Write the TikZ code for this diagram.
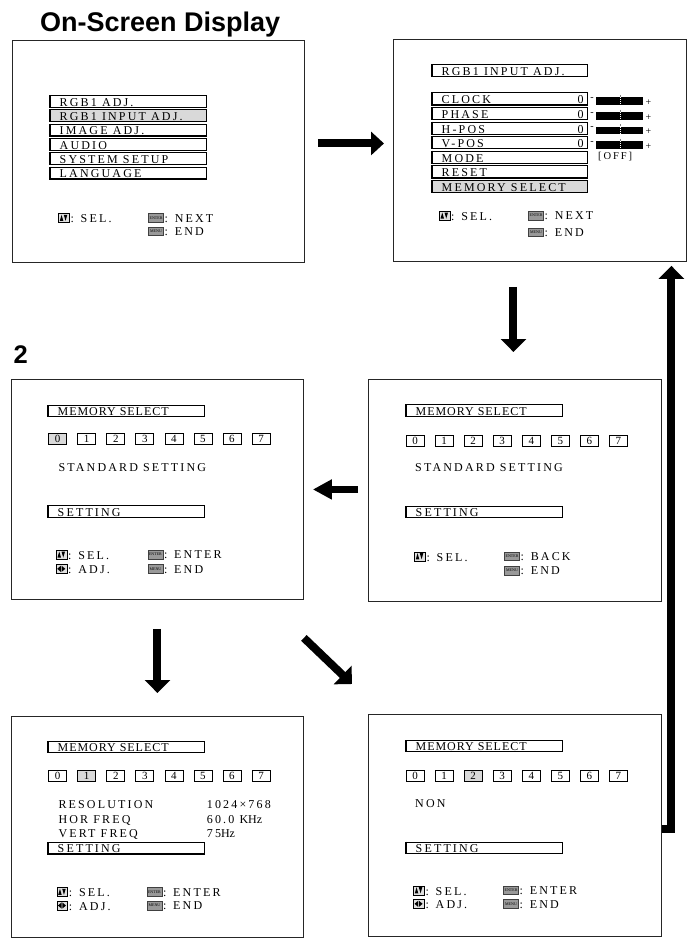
\documentclass[tikz,border=0pt]{standalone}
\usepackage{fontspec}
\setmainfont{Liberation Serif}
\newfontfamily\osdA[LetterSpace=18]{Liberation Serif}
\newfontfamily\osdB[LetterSpace=8]{Liberation Serif}
\newfontfamily\hdfont{Liberation Sans}
\usetikzlibrary{arrows.meta,calc}

\tikzset{
  panel/.style={draw=black!85, line width=0.9pt, fill=white, inner sep=0pt, anchor=north west},
  rowbox/.style={draw=black, line width=0.8pt, inner sep=0pt, anchor=north west},
  rowedge/.style={line width=1.1pt},
  rowtext/.style={inner sep=0pt, font=\osdA\fontsize{12}{13}\selectfont, anchor=base west},
  plaintext/.style={inner sep=0pt, font=\fontsize{12}{13}\selectfont, anchor=base east},
  numbox/.style={draw=black, line width=0.7pt, inner sep=0pt, minimum width=18pt, minimum height=11pt, anchor=north west, font=\fontsize{11}{12}\selectfont},
  keybox/.style={draw=black!75, fill=black!40, line width=0.5pt, inner sep=0pt, minimum width=15pt, minimum height=8.5pt, anchor=north west, font=\fontsize{4}{4.5}\selectfont},
  iconbox/.style={draw=black, fill=black!12, line width=0.9pt, inner sep=0pt, minimum width=10.5pt, minimum height=9pt, anchor=north west},
  smallsign/.style={inner sep=0pt, font=\fontsize{10}{11}\selectfont},
  fat/.style={line width=8pt, line join=miter, -{Triangle[length=13pt,width=25pt]}},
}

\newcommand\osdrow[7]{%
  \node[rowbox,fill=#6,minimum width=#4pt,minimum height=#5pt] (#1) at (#2,#3) {};
  \draw[rowedge] (#1.north west) -- (#1.south west) -- (#1.south east);
  \node[rowtext] (#1t) at ([xshift=9.5pt,yshift=1.2pt]#1.south west) {#7};}

\newcommand\numrow[4]{%
  \foreach \i in {0,...,7}{%
    \pgfmathsetmacro\xx{#2+29.05*\i}%
    \ifnum\i=#4 \def\nf{black!15}\else\def\nf{white}\fi
    \node[numbox,fill=\nf] (#1n\i) at (\xx,#3) {\i};
  }}

\newcommand\updown[3]{%
  \node[iconbox] (#1) at (#2,#3) {};
  \fill (#2+1.5,#3+7.6) -- (#2+5.0,#3+7.6) -- (#2+3.25,#3+1.5) -- cycle;
  \fill (#2+5.5,#3+1.5) -- (#2+9.0,#3+1.5) -- (#2+7.25,#3+7.6) -- cycle;
  \node[rowtext] (#1t) at ([xshift=0.6pt,yshift=0.3pt]#1.south east) {: SEL.};}

\newcommand\leftright[3]{%
  \node[iconbox] (#1) at (#2,#3) {};
  \fill (#2+1.2,#3+4.5) -- (#2+4.9,#3+1.4) -- (#2+4.9,#3+7.6) -- cycle;
  \fill (#2+9.3,#3+4.5) -- (#2+5.6,#3+1.4) -- (#2+5.6,#3+7.6) -- cycle;
  \node[rowtext] (#1t) at ([xshift=0.6pt,yshift=0.3pt]#1.south east) {: ADJ.};}

\newcommand\keyicon[5]{%
  \node[keybox] (#1) at (#2,#3) {#4};
  \node[rowtext] (#1t) at ([xshift=0.6pt,yshift=0.3pt]#1.south east) {#5};}

\newcommand\slider[2]{%
  \node[smallsign] (#1m) at (592,#2+7) {-};
  \fill (596,#2+5) rectangle (643,#2+12.6);
  \draw[white, line width=0.8pt, dash pattern=on 1pt off 1pt] (620,#2+5) -- (620,#2+12.6);
  \draw[black!50, line width=0.6pt] (620,#2+2.8) -- (620,#2+4.6);
  \node[smallsign] (#1p) at (648.5,#2+10.5) {+};}

\begin{document}
\begin{tikzpicture}[x=1pt,y=-1pt]
\useasboundingbox (0,0) rectangle (690,943);
\fill[white] (0,0) rectangle (690,943);

\node[anchor=base west, inner sep=0pt, font=\hdfont\bfseries\fontsize{27}{30}\selectfont] (title) at (40,31.7) {On-Screen Display};
\node[anchor=base west, inner sep=0pt, font=\hdfont\bfseries\fontsize{25.5}{28}\selectfont] (two) at (13.5,363.3) {2};

% panels
\node[panel,minimum width=292pt,minimum height=222pt] (p1) at (12,40) {};
\node[panel,minimum width=293pt,minimum height=222pt] (p2) at (393,39) {};
\node[panel,minimum width=292pt,minimum height=220pt] (p3) at (11,379) {};
\node[panel,minimum width=293pt,minimum height=222pt] (p4) at (368,379) {};
\node[panel,minimum width=292pt,minimum height=221pt] (p5) at (11,716) {};
\node[panel,minimum width=293pt,minimum height=222pt] (p6) at (368,714) {};

% panel 1
\osdrow{a1}{50}{95}{156}{11.5}{white}{RGB1 ADJ.}
\osdrow{a2}{50}{109.3}{156}{11.5}{black!15}{RGB1 INPUT ADJ.}
\osdrow{a3}{50}{123.7}{156}{11.5}{white}{IMAGE ADJ.}
\osdrow{a4}{50}{138}{156}{11.5}{white}{AUDIO}
\osdrow{a5}{50}{152.3}{156}{11.5}{white}{SYSTEM SETUP}
\osdrow{a6}{50}{166.7}{156}{11.5}{white}{LANGUAGE}
\updown{a7}{58.3}{213.3}
\keyicon{a8}{148.3}{213.3}{ENTER}{: NEXT}
\keyicon{a9}{148.3}{226.7}{MENU}{: END}

% panel 2
\osdrow{b0}{432}{64}{155}{12}{white}{RGB1 INPUT ADJ.}
\osdrow{b1}{432}{92.3}{155}{12}{white}{CLOCK}
\osdrow{b2}{432}{106.9}{155}{12}{white}{PHASE}
\osdrow{b3}{432}{121.5}{155}{12}{white}{H-POS}
\osdrow{b4}{432}{136.1}{155}{12}{white}{V-POS}
\osdrow{b5}{432}{150.7}{155}{12}{white}{MODE}
\osdrow{b6}{432}{165.3}{155}{12}{white}{RESET}
\osdrow{b7}{432}{179.9}{155}{12}{black!15}{MEMORY SELECT}
\foreach \r in {b1,b2,b3,b4}{\node[plaintext] (\r z) at ([xshift=-4pt,yshift=1.2pt]\r.south east) {0};}
\slider{s1}{92.3}
\slider{s2}{106.9}
\slider{s3}{121.5}
\slider{s4}{136.1}
\node[rowtext, font=\osdA\fontsize{10.5}{11}\selectfont] (off) at (598,159.5) {[OFF]};
\updown{b8}{439}{211}
\keyicon{b9}{528.3}{211}{ENTER}{: NEXT}
\keyicon{b10}{528.3}{227.7}{MENU}{: END}

% panel 3
\osdrow{c0}{48}{405}{156}{11}{white}{\osdB MEMORY SELECT}
\numrow{c}{48.3}{433}{0}
\node[rowtext] (c9) at (58.3,471.5) {STANDARD SETTING};
\osdrow{c10}{48}{505}{156}{12}{white}{SETTING}
\updown{c11}{56}{550}
\keyicon{c12}{147.7}{550}{ENTER}{: ENTER}
\leftright{c13}{56}{564.3}
\keyicon{c14}{147.7}{564.3}{MENU}{: END}

% panel 4
\osdrow{d0}{406}{404}{156}{12}{white}{\osdB MEMORY SELECT}
\numrow{d}{405.7}{435}{-1}
\node[rowtext] (d9) at (415,471.7) {STANDARD SETTING};
\osdrow{d10}{406}{506}{156}{11}{white}{SETTING}
\updown{d11}{414.3}{551.7}
\keyicon{d12}{504.3}{551.7}{ENTER}{: BACK}
\keyicon{d13}{504.3}{566}{MENU}{: END}

% panel 5
\osdrow{e0}{48}{741}{156}{11}{white}{\osdB MEMORY SELECT}
\numrow{e}{48.3}{770}{1}
\node[rowtext] (e1) at (58.3,808.8) {RESOLUTION};
\node[rowtext] (e2) at (58.3,823.2) {HOR FREQ};
\node[rowtext] (e3) at (58.3,837.6) {VERT FREQ};
\node[rowtext] (e4) at (206.7,808.8) {1024×768};
\node[rowtext] (e5) at (206.7,823.2) {60.0 {\rmfamily KHz}};
\node[rowtext] (e6) at (206.7,837.6) {75{\rmfamily Hz}};
\osdrow{e10}{48}{842.3}{156}{11}{white}{SETTING}
\updown{e11}{56.7}{887.3}
\keyicon{e12}{146.7}{887.3}{ENTER}{: ENTER}
\leftright{e13}{56.7}{901}
\keyicon{e14}{146.7}{901}{MENU}{: END}

% panel 6
\osdrow{f0}{406}{740}{156}{11}{white}{\osdB MEMORY SELECT}
\numrow{f}{405.7}{770}{2}
\node[rowtext] (f9) at (415,807.7) {NON};
\osdrow{f10}{406}{841.7}{156}{11}{white}{SETTING}
\updown{f11}{413.3}{885.7}
\keyicon{f12}{503.3}{885.7}{ENTER}{: ENTER}
\leftright{f13}{413.3}{899.3}
\keyicon{f14}{503.3}{899.3}{MENU}{: END}

% arrows
\draw[fat, -{Triangle[length=13pt,width=23pt]}] ($(p1.east)+(13,-8)$) -- ($(p2.west)+(-9,-7)$);
\draw[fat] ($(p2.south -| p4.north)+(-1.5,25)$) -- ($(p4.north)+(-1.5,-27)$);
\draw[fat, line width=7pt, -{Triangle[length=19pt,width=19pt]}] ($(p4.west)+(-10,-1)$) -- ($(p3.east)+(9,0)$);
\draw[fat] ($(p3.south)+(0,29)$) -- ($(p5.north)+(0,-23)$);
\draw[fat] ($(p3.south east)+(0,38)$) -- ($(p6.north west)+(-16,-30)$);
\draw[fat] ($(p6.east)+(0,3.5)$) -| ($(p2.south)+(131.5,4)$);
\end{tikzpicture}
\end{document}
